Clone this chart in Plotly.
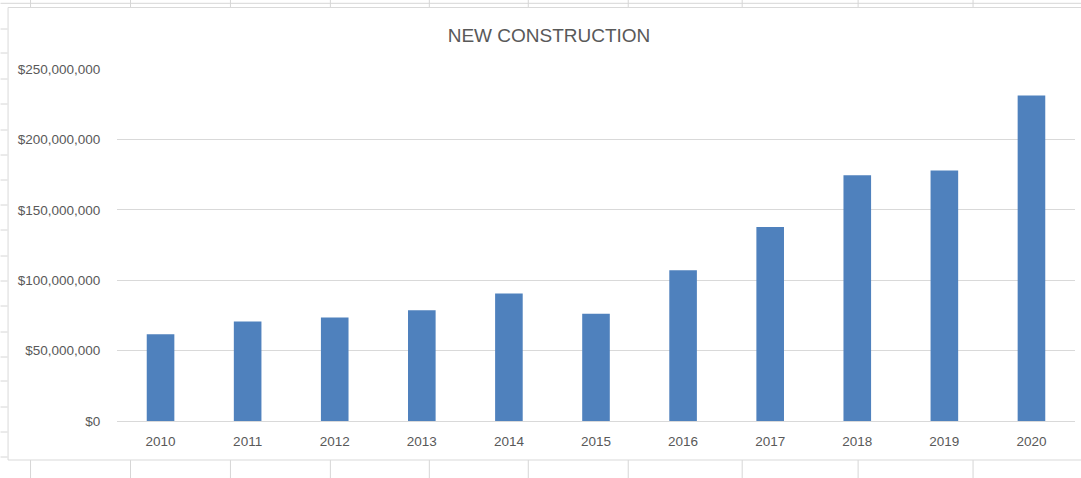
import plotly.graph_objects as go

years = ["2010", "2011", "2012", "2013", "2014", "2015", "2016", "2017", "2018", "2019", "2020"]
values = [61.7e6, 70.7e6, 73.5e6, 78.7e6, 90.6e6, 76.1e6, 107.1e6, 137.8e6, 174.5e6, 178.0e6, 231.2e6]
y_ticks = [0, 50e6, 100e6, 150e6, 200e6, 250e6]

W, H = 1081, 478
L, R, T, B = 116.5, 1075, 69, 421  # plot area in pixels


def px(x):
    return (x - L) / (R - L)


def py(y):
    return (B - y) / (B - T)


fig = go.Figure(go.Bar(x=years, y=values, marker=dict(color="#4F81BD", line=dict(width=0))))

grid = "#d6d6d6"
shapes = []
# spreadsheet background lines
col_x = [30, 130, 230, 330, 429, 528, 628, 742, 858, 973]
for cx in col_x:
    shapes.append(dict(type="line", xref="paper", yref="paper", x0=px(cx), x1=px(cx),
                       y0=py(0), y1=py(7), line=dict(color=grid, width=1), layer="below"))
    shapes.append(dict(type="line", xref="paper", yref="paper", x0=px(cx), x1=px(cx),
                       y0=py(460), y1=py(478), line=dict(color=grid, width=1), layer="below"))
shapes.append(dict(type="line", xref="paper", yref="paper", x0=px(0), x1=px(W),
                   y0=py(3.3), y1=py(3.3), line=dict(color=grid, width=1), layer="below"))
row_y = [29, 53, 79, 104, 130, 155, 180, 205, 230, 256, 281, 306, 332, 357, 381, 407, 432, 457]
for ry in row_y:
    shapes.append(dict(type="line", xref="paper", yref="paper", x0=px(0), x1=px(7),
                       y0=py(ry), y1=py(ry), line=dict(color=grid, width=1), layer="below"))
# chart frame
shapes.append(dict(type="rect", xref="paper", yref="paper", x0=px(7.5), x1=px(W + 5),
                   y0=py(460), y1=py(7.5), line=dict(color="#d9d9d9", width=1),
                   fillcolor="rgba(0,0,0,0)", layer="below"))

fig.update_layout(
    width=W, height=H,
    margin=dict(l=L, r=W - R, t=T, b=H - B, pad=0),
    paper_bgcolor="white", plot_bgcolor="white",
    bargap=0.683,
    showlegend=False,
    font=dict(family="Liberation Sans, Arial, sans-serif", color="#595959", size=13),
    title=dict(text="NEW CONSTRUCTION", x=549 / W, xanchor="center", y=1 - 35 / H, yanchor="middle",
               font=dict(size=19, color="#595959")),
    shapes=shapes,
    xaxis=dict(type="category", showgrid=False, showline=False, zeroline=False,
               ticks="outside", ticklen=8, tickcolor="rgba(0,0,0,0)",
               tickfont=dict(size=13.5, color="#595959")),
    yaxis=dict(range=[0, 250e6], tickvals=y_ticks, tickformat="$,.0f",
               showgrid=True, gridcolor="#d9d9d9", gridwidth=1,
               zeroline=True, zerolinecolor="#d9d9d9", zerolinewidth=1,
               showline=False, ticks="outside", ticklen=13, tickcolor="rgba(0,0,0,0)",
               tickfont=dict(size=13.5, color="#595959")),
)

fig.write_html("out.html", config={"displayModeBar": False},
               post_script="document.body.style.margin='0';document.body.style.overflow='hidden';")
